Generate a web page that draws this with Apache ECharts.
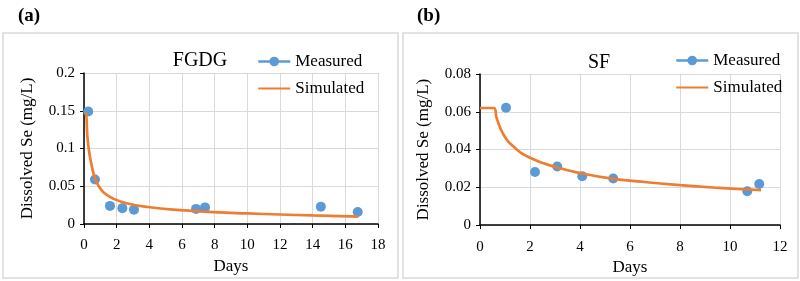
<!DOCTYPE html>
<html>
<head>
<meta charset="utf-8">
<script src="https://cdn.jsdelivr.net/npm/echarts@6/dist/echarts.min.js"></script>
<style>
  html, body { margin: 0; padding: 0; background: #fff; }
  #chart { width: 800px; height: 281px; }
</style>
</head>
<body>
<div id="chart"></div>
<script>
// ---- panel (a) FGDG ----
const fgdgMeasuredDays = [0.26, 0.67, 1.59, 2.35, 3.06, 6.86, 7.41, 14.5, 16.76];
const fgdgMeasuredSe   = [0.149, 0.059, 0.024, 0.021, 0.019, 0.020, 0.022, 0.023, 0.016];
const fgdgSimDays = [0.08, 0.14, 0.2, 0.3, 0.4, 0.57, 0.78, 1.0, 1.3, 1.8, 2.6, 3.9, 5.9, 7.9, 10.0, 12.0, 14.0, 16.8];
const fgdgSimSe   = [0.148, 0.145, 0.118, 0.098, 0.085, 0.068, 0.055, 0.047, 0.040, 0.0335, 0.0275, 0.0225, 0.0183, 0.0158, 0.014, 0.0126, 0.0113, 0.0098];

// ---- panel (b) SF ----
const sfMeasuredDays = [1.04, 2.2, 3.09, 4.09, 5.33, 10.69, 11.17];
const sfMeasuredSe   = [0.0621, 0.0281, 0.031, 0.0259, 0.0247, 0.0179, 0.0218];
const sfSimDays = [0, 0.55, 0.67, 0.93, 1.33, 2.0, 3.07, 4.13, 5.33, 6.67, 8.0, 9.33, 10.27, 11.24];
const sfSimSe   = [0.062, 0.062, 0.0565, 0.0482, 0.0417, 0.0357, 0.0306, 0.0272, 0.0245, 0.0227, 0.0212, 0.0199, 0.0191, 0.0185];

const pairs = (xs, ys) => xs.map((x, i) => [x, ys[i]]);

const FONT = "Liberation Serif";
const BLUE = "#5b9bd5";
const ORANGE = "#ed7d31";
const GRID_GRAY = "#d9d9d9";

const chart = echarts.init(document.getElementById("chart"), null, { renderer: "canvas" });

function xAxisCfg(gridIndex, max, nameGap) {
    return {
        type: "value", gridIndex, min: 0, max, interval: 2,
        name: "Days", nameLocation: "middle", nameGap,
        nameTextStyle: { fontFamily: FONT, fontSize: 17, color: "#000" },
        axisLine: { onZero: false, lineStyle: { color: "#000", width: 1.5 } },
        axisTick: { show: true, length: 4, lineStyle: { color: "#000" } },
        axisLabel: { fontFamily: FONT, fontSize: 15, color: "#000", margin: 14 },
        splitLine: { show: true, lineStyle: { color: GRID_GRAY, width: 1 } }
    };
}

function yAxisCfg(gridIndex, max, interval) {
    return {
        type: "value", gridIndex, min: 0, max, interval,
        name: "Dissolved Se (mg/L)", nameLocation: "middle", nameGap: 48,
        nameTextStyle: { fontFamily: FONT, fontSize: 17, color: "#000" },
        axisLine: { show: true, lineStyle: { color: "#000", width: 1.5 } },
        axisTick: { show: true, length: 4, lineStyle: { color: "#000" } },
        axisLabel: { fontFamily: FONT, fontSize: 15, color: "#000", margin: 9 },
        splitLine: { show: true, lineStyle: { color: GRID_GRAY, width: 1 } }
    };
}

function legendCfg(left, top) {
    return {
        orient: "vertical", left, top, padding: 0,
        itemWidth: 32, itemHeight: 12, itemGap: 10,
        textStyle: { fontFamily: FONT, fontSize: 17, color: "#000", lineHeight: 17 },
        data: [
            { name: "Measured", lineStyle: { color: BLUE, width: 2.5, opacity: 1 } },
            { name: "Simulated", itemStyle: { opacity: 0 } }
        ]
    };
}

function measuredSeries(idx, data) {
    return {
        name: "Measured", type: "line", xAxisIndex: idx, yAxisIndex: idx,
        data, symbol: "circle", symbolSize: 10,
        itemStyle: { color: BLUE },
        lineStyle: { width: 0, opacity: 0 },
        z: 3
    };
}

function simulatedSeries(idx, data) {
    return {
        name: "Simulated", type: "line", xAxisIndex: idx, yAxisIndex: idx,
        data, showSymbol: false, symbol: "none",
        smooth: 0.5,
        itemStyle: { color: ORANGE },
        lineStyle: { color: ORANGE, width: 2.7 },
        z: 4
    };
}

chart.setOption({
    backgroundColor: "#fff",
    animation: false,

    title: [
        { text: "(a)", left: 13, top: 2, textStyle: { fontFamily: FONT, fontSize: 19, fontWeight: "bold", color: "#000" } },
        { text: "(b)", left: 412, top: 2, textStyle: { fontFamily: FONT, fontSize: 19, fontWeight: "bold", color: "#000" } },
        { text: "FGDG", left: 195, top: 46, textAlign: "center", textStyle: { fontFamily: FONT, fontSize: 20, fontWeight: "normal", color: "#000" } },
        { text: "SF", left: 594, top: 48, textAlign: "center", textStyle: { fontFamily: FONT, fontSize: 20, fontWeight: "normal", color: "#000" } }
    ],

    // panel frames
    graphic: [
        { type: "rect", shape: { x: 3, y: 33, width: 395, height: 245 }, style: { fill: "none", stroke: GRID_GRAY, lineWidth: 1.5 }, silent: true, z: -1 },
        { type: "rect", shape: { x: 403, y: 33, width: 395, height: 245 }, style: { fill: "none", stroke: GRID_GRAY, lineWidth: 1.5 }, silent: true, z: -1 }
    ],

    legend: [legendCfg(257, 53), legendCfg(675, 52)],

    grid: [
        { left: 84, right: 422, top: 73, bottom: 57 },
        { left: 480, right: 20, top: 74, bottom: 50.5 }
    ],

    xAxis: [xAxisCfg(0, 18, 34), xAxisCfg(1, 12, 30)],
    yAxis: [yAxisCfg(0, 0.2, 0.05), yAxisCfg(1, 0.08, 0.02)],

    series: [
        simulatedSeries(0, pairs(fgdgSimDays, fgdgSimSe)),
        measuredSeries(0, pairs(fgdgMeasuredDays, fgdgMeasuredSe)),
        simulatedSeries(1, pairs(sfSimDays, sfSimSe)),
        measuredSeries(1, pairs(sfMeasuredDays, sfMeasuredSe))
    ]
});
</script>
</body>
</html>
